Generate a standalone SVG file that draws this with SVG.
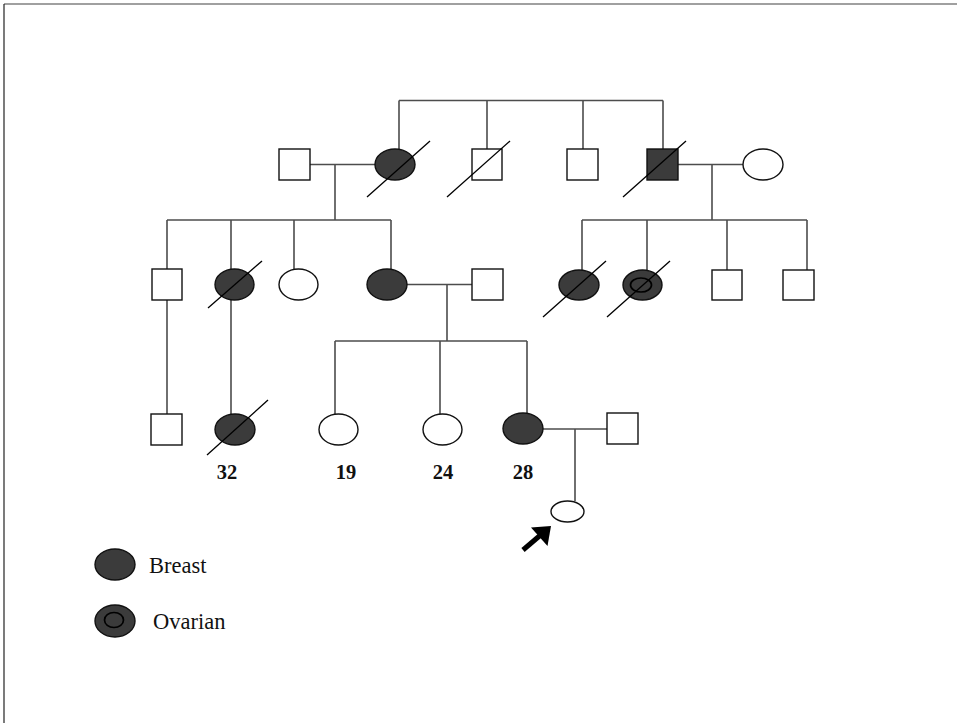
<svg xmlns="http://www.w3.org/2000/svg" width="957" height="723" viewBox="0 0 957 723">
  <style>
    .con { stroke: #4d4d4d; stroke-width: 1.6; fill: none; }
    .m { fill: #fff; stroke: #111; stroke-width: 1.4; }
    .f { fill: #fff; stroke: #111; stroke-width: 1.4; }
    .aff { fill: #3b3b3b; stroke: #111; stroke-width: 1.4; }
    .dec { stroke: #000; stroke-width: 1.3; }
    .ov { fill: none; stroke: #000; stroke-width: 1.7; }
    .age { font-family: "Liberation Serif", "Times New Roman", serif; font-size: 20.5px; font-weight: bold; text-anchor: middle; fill: #111; }
    .leg { font-family: "Liberation Serif", "Times New Roman", serif; font-size: 22.5px; fill: #111; }
  </style>
  <rect width="957" height="723" fill="#fff"/>
  <!-- frame -->
  <line x1="4" y1="4" x2="957" y2="4" stroke="#808080" stroke-width="1.6"/>
  <line x1="4" y1="4" x2="4" y2="723" stroke="#222" stroke-width="1.2"/>

  <g id="connectors">
    <!-- generation I sibship -->
    <path class="con" d="M399 100.5 H663 M399 100.5 V149 M487 100.5 V149 M583 100.5 V149 M663 100.5 V149"/>
    <!-- couples of generation I -->
    <path class="con" d="M310 164.5 H375 M335 164.5 V220"/>
    <path class="con" d="M678 164.5 H743 M712 164.5 V220"/>
    <!-- generation II sibships -->
    <path class="con" d="M167 220 H391 M167 220 V269 M231 220 V269 M294 220 V269 M391 220 V269"/>
    <path class="con" d="M582 220 H807 M582 220 V270 M647 220 V270 M727 220 V270 M807 220 V270"/>
    <!-- generation II couple -->
    <path class="con" d="M407 284.5 H472 M447 284.5 V341"/>
    <!-- descent lines to generation III -->
    <path class="con" d="M167 300 V414 M231 300 V414"/>
    <path class="con" d="M335 341 H527 M335 341 V414 M440 341 V414 M527 341 V413"/>
    <!-- generation III couple -->
    <path class="con" d="M543 429 H607 M575 429 V501"/>
  </g>

  <!-- generation I -->
  <g id="g1-husband"><rect class="m" x="279" y="149" width="31" height="31"/></g>
  <g id="g1-sister"><ellipse class="aff" cx="395" cy="164.5" rx="20" ry="15.5"/><line class="dec" x1="367" y1="197" x2="430" y2="141"/></g>
  <g id="g1-brother1"><rect class="m" x="472" y="149" width="30" height="31"/><line class="dec" x1="447" y1="197" x2="510" y2="141"/></g>
  <g id="g1-brother2"><rect class="m" x="567" y="149" width="31" height="31"/></g>
  <g id="g1-brother3"><rect class="aff" x="647" y="149" width="31" height="31"/><line class="dec" x1="623" y1="197" x2="686" y2="141"/></g>
  <g id="g1-wife"><ellipse class="f" cx="763" cy="164.5" rx="20" ry="15.5"/></g>

  <!-- generation II, left family -->
  <g id="g2-son"><rect class="m" x="152" y="269" width="30" height="31"/></g>
  <g id="g2-daughter1"><ellipse class="aff" cx="234.5" cy="284.5" rx="19.5" ry="15.5"/><line class="dec" x1="208" y1="308" x2="262" y2="261"/></g>
  <g id="g2-daughter2"><ellipse class="f" cx="298.5" cy="284.5" rx="19.5" ry="15.5"/></g>
  <g id="g2-daughter3"><ellipse class="aff" cx="387" cy="284.5" rx="20" ry="15.5"/></g>
  <g id="g2-husband"><rect class="m" x="472" y="269" width="31" height="31"/></g>

  <!-- generation II, right family -->
  <g id="g2-cousin1"><ellipse class="aff" cx="579" cy="285" rx="20" ry="15"/><line class="dec" x1="543" y1="317" x2="606" y2="261"/></g>
  <g id="g2-cousin2"><ellipse class="aff" cx="642.5" cy="285" rx="19.5" ry="15"/><ellipse class="ov" cx="641" cy="285" rx="10.5" ry="7"/><line class="dec" x1="607" y1="317" x2="670" y2="261"/></g>
  <g id="g2-cousin3"><rect class="m" x="712" y="270" width="30" height="30"/></g>
  <g id="g2-cousin4"><rect class="m" x="783" y="270" width="31" height="30"/></g>

  <!-- generation III -->
  <g id="g3-son"><rect class="m" x="151" y="414" width="31" height="31"/></g>
  <g id="g3-daughter1"><ellipse class="aff" cx="235" cy="429.5" rx="20" ry="15.5"/><line class="dec" x1="207" y1="455" x2="268" y2="400"/><text class="age" x="227" y="479">32</text></g>
  <g id="g3-daughter2"><ellipse class="f" cx="338.5" cy="429.5" rx="19.5" ry="15.5"/><text class="age" x="346" y="479">19</text></g>
  <g id="g3-daughter3"><ellipse class="f" cx="442.5" cy="429.5" rx="19.5" ry="15.5"/><text class="age" x="443" y="479">24</text></g>
  <g id="g3-daughter4"><ellipse class="aff" cx="523" cy="428.5" rx="20" ry="15.5"/><text class="age" x="523" y="479">28</text></g>
  <g id="g3-husband"><rect class="m" x="607" y="413" width="31" height="31"/></g>

  <!-- proband -->
  <g id="proband">
    <ellipse class="f" cx="567.5" cy="511.5" rx="16.5" ry="10.5"/>
    <line x1="523" y1="550" x2="540" y2="535.5" stroke="#000" stroke-width="5"/>
    <polygon points="551,526 547.5,546 531,527.5" fill="#000"/>
  </g>

  <!-- legend -->
  <g id="legend-breast"><ellipse class="aff" cx="115" cy="564.5" rx="20" ry="15.5"/><text class="leg" x="149" y="573">Breast</text></g>
  <g id="legend-ovarian"><ellipse class="aff" cx="115" cy="621" rx="20" ry="16"/><ellipse class="ov" cx="114" cy="620" rx="9.5" ry="7.5"/><text class="leg" x="153" y="629">Ovarian</text></g>
</svg>
